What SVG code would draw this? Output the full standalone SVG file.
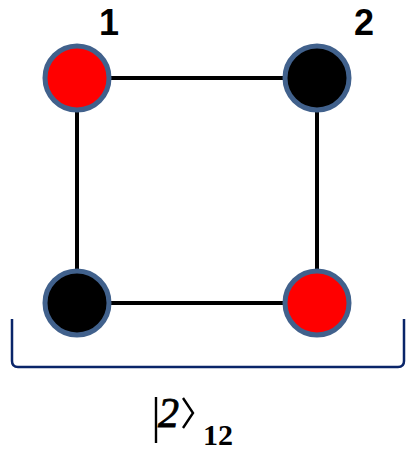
<svg xmlns="http://www.w3.org/2000/svg" width="407" height="451" viewBox="0 0 407 451">
<style>
.edge{stroke:#000;stroke-width:4;fill:none}
.node{stroke:#41618c;stroke-width:5}
.red{fill:#ff0000}
.black{fill:#000}
.lbl{font-family:"Liberation Sans",Arial,sans-serif;font-weight:bold;font-size:36px;fill:#000;text-anchor:middle}
.brace{stroke:#0a2569;stroke-width:2.5;fill:none}
</style>
<rect width="407" height="451" fill="#fff"/>
<g id="connectors">
<line class="edge" x1="77" y1="78" x2="317" y2="78"/>
<line class="edge" x1="77" y1="303" x2="317" y2="303"/>
<line class="edge" x1="77" y1="78" x2="77" y2="303"/>
<line class="edge" x1="317" y1="78" x2="317" y2="303"/>
</g>
<g id="node1"><circle class="node red" cx="77" cy="78" r="32"/></g>
<g id="node2"><circle class="node black" cx="317" cy="78" r="32"/></g>
<g id="node3"><circle class="node black" cx="77" cy="303" r="32"/></g>
<g id="node4"><circle class="node red" cx="317" cy="303" r="32"/></g>
<g id="labels">
<text class="lbl" x="109" y="35">1</text>
<text class="lbl" x="364" y="35">2</text>
</g>
<g id="bracket">
<path class="brace" d="M12,319 V361 Q12,367 18,367 H398 Q404,367 404,361 V319"/>
</g>
<g id="ket">
<line x1="156" y1="397" x2="156" y2="443" stroke="#000" stroke-width="2.4"/>
<text x="158" y="427" font-family="'Liberation Serif','Times New Roman',serif" font-style="italic" font-size="42" fill="#000" stroke="#000" stroke-width="0.9">2</text>
<path d="M183,398 L193,413 L183,428" stroke="#000" stroke-width="2.4" fill="none"/>
<text x="203" y="445" font-family="'Liberation Serif','Times New Roman',serif" font-weight="bold" font-size="30" fill="#000">12</text>
</g>
</svg>
